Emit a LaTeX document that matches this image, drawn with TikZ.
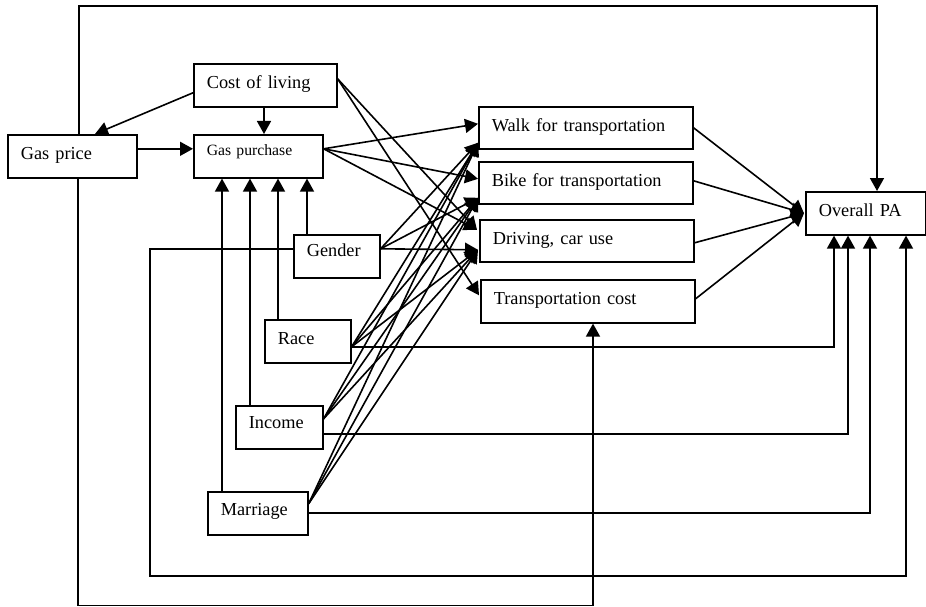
\documentclass[tikz,border=0pt]{standalone}
\usepackage{fontspec}
\setmainfont{Liberation Serif}
\usetikzlibrary{arrows.meta,calc}
\begin{document}
\begin{tikzpicture}[x=1pt,y=-1pt,
  bx/.style={draw,line width=1.6pt,anchor=north west,inner xsep=13pt,inner ysep=0pt,minimum height=43pt,align=left,text height=12.5pt,text depth=5.5pt,font=\fontsize{18.3}{22}\selectfont},
  ln/.style={line width=1.6pt},
  arr/.style={ln,-{Triangle[length=13pt,width=14pt]}},
]
\useasboundingbox (0,0) rectangle (926,607);
% boxes
\node[bx,text width=103pt] (gasprice) at (7,134) {Gas price};
\node[bx,text width=117pt] (costliving) at (193,63) {Cost of living};
\node[bx,text width=103pt,font=\fontsize{15.7}{19}\selectfont,text height=7pt,text depth=9pt] (gaspurchase) at (193,134) {Gas purchase};
\node[bx,text width=60pt,text height=9pt,text depth=8pt] (gender) at (293,234) {Gender};
\node[bx,text width=60pt] (race) at (264,319) {Race};
\node[bx,text width=61pt,text height=11pt,text depth=8pt] (income) at (235,405) {Income};
\node[bx,text width=74pt,text height=12pt,text depth=7pt] (marriage) at (207,491) {Marriage};
\node[bx,text width=188pt,minimum height=42pt] (walk) at (478,106) {Walk for transportation};
\node[bx,text width=188pt,minimum height=42pt] (bike) at (478,161) {Bike for transportation};
\node[bx,text width=188pt,minimum height=42pt] (driving) at (479,219) {Driving, car use};
\node[bx,text width=188pt] (transcost) at (480,279) {Transportation cost};
\node[bx,text width=94pt] (pa) at (805,191) {Overall PA};
% attachment points
\coordinate (wA) at ($(walk.west)+(0,-4)$);
\coordinate (wB) at ($(walk.west)+(0,15)$);
\coordinate (bA) at ($(bike.west)+(0,-4)$);
\coordinate (bB) at ($(bike.west)+(0,15)$);
\coordinate (dA) at ($(driving.west)+(-2,-11)$);
\coordinate (dB) at ($(driving.west)+(-1,9)$);
\coordinate (tA) at ($(transcost.west)+(-1,-6)$);
\coordinate (genF) at ($(gender.east)+(0,-7.5)$);
\coordinate (raceF) at ($(race.east)+(0,5.5)$);
\coordinate (incF) at ($(income.east)+(0,-8.5)$);
\coordinate (marF) at ($(marriage.east)+(0,-9.5)$);
\coordinate (colR) at ($(costliving.east)+(0,-6.5)$);
\coordinate (gpR) at ($(gaspurchase.east)+(0,-7.5)$);
% loops from gas price
\coordinate (gpTop) at ($(gasprice.north west)+(72,0)$);
\coordinate (paTop) at ($(pa.north west)+(72,0)$);
\draw[arr] (gpTop) -- (gpTop |- 0,6) -- (paTop |- 0,6) -- (paTop);
\coordinate (gpBot) at ($(gasprice.south west)+(71,0)$);
\coordinate (tcBot) at ($(transcost.south west)+(113,0)$);
\draw[arr] (gpBot) -- (gpBot |- 0,605.5) -- (tcBot |- 0,605.5) -- (tcBot);
% cost of living
\draw[arr] ($(costliving.west)+(0,7.5)$) -- ($(gasprice.north west)+(88,0)$);
\coordinate (colB) at ($(costliving.south west)+(71,0)$);
\draw[arr] (colB) -- (colB |- gaspurchase.north);
\draw[arr] (colR) -- (dA);
\draw[arr] (colR) -- (tA);
% gas price -> gas purchase
\coordinate (gprR) at ($(gasprice.east)+(0,-7.5)$);
\draw[arr] (gprR) -- (gprR -| gaspurchase.west);
% gas purchase -> modes
\draw[arr] (gpR) -- (wA);
\draw[arr] (gpR) -- (bA);
\draw[arr] (gpR) -- (dA);
% demographics fan
\foreach \s in {genF,raceF,incF,marF}{
  \foreach \t in {wB,bB,dB}{\draw[arr] (\s) -- (\t);}
}
% demographics -> gas purchase
\coordinate (m1) at ($(marriage.north west)+(15,0)$);
\coordinate (i1) at ($(income.north west)+(15,0)$);
\coordinate (r1) at ($(race.north west)+(14,0)$);
\coordinate (g1) at ($(gender.north west)+(14,0)$);
\draw[arr] (m1) -- (m1 |- gaspurchase.south);
\draw[arr] (i1) -- (i1 |- gaspurchase.south);
\draw[arr] (r1) -- (r1 |- gaspurchase.south);
\draw[arr] (g1) -- (g1 |- gaspurchase.south);
% demographics -> overall PA
\coordinate (pa1) at ($(pa.south west)+(29,0)$);
\coordinate (pa2) at ($(pa.south west)+(43,0)$);
\coordinate (pa3) at ($(pa.south west)+(65,0)$);
\coordinate (pa4) at ($(pa.south west)+(101,0)$);
\coordinate (raceR) at ($(race.east)+(0,5.5)$);
\coordinate (incR) at ($(income.east)+(0,6.5)$);
\coordinate (marR) at ($(marriage.east)+(0,-0.5)$);
\coordinate (genL) at ($(gender.west)+(0,-7.5)$);
\draw[arr] (raceR) -- (raceR -| pa1) -- (pa1);
\draw[arr] (incR) -- (incR -| pa2) -- (pa2);
\draw[arr] (marR) -- (marR -| pa3) -- (pa3);
\draw[arr] (genL) -- (genL -| 150,0) -- (150,576) -- (pa4 |- 0,576) -- (pa4);
% modes -> overall PA
\draw[arr] (walk.east) -- ($(pa.west)+(-1,0)$);
\draw[arr] ($(bike.east)+(0,-2)$) -- ($(pa.west)+(-1,0)$);
\draw[arr] ($(driving.east)+(0,2)$) -- ($(pa.west)+(-1,0)$);
\draw[arr] ($(transcost.east)+(0,-2.5)$) -- ($(pa.west)+(-1,0)$);
\end{tikzpicture}
\end{document}
